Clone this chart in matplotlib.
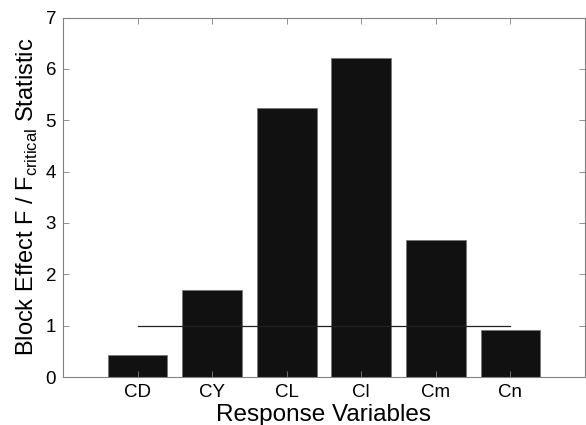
import matplotlib
matplotlib.use("Agg")
import matplotlib.pyplot as plt

# data
variables = ["CD", "CY", "CL", "Cl", "Cm", "Cn"]
ratios = [0.43, 1.70, 5.24, 6.21, 2.66, 0.92]
critical = 1.0

plt.rcParams["font.family"] = ["Liberation Sans", "DejaVu Sans"]
plt.rcParams["mathtext.fontset"] = "custom"
plt.rcParams["mathtext.rm"] = "Liberation Sans"

fig = plt.figure(figsize=(5.86, 4.25), dpi=100)
ax = fig.add_axes([63 / 586, 1 - 377 / 425, 522 / 586, 359.5 / 425])

pos = list(range(1, len(variables) + 1))
ax.bar(pos, ratios, width=0.8, color="#111111", edgecolor="#777777", linewidth=0.6)
ax.plot([pos[0], pos[-1]], [critical, critical], color="#222222", linewidth=0.9)

ax.set_xlim(0, 7)
ax.set_ylim(0, 7)
ax.set_xticks(pos)
ax.set_xticklabels(variables)
ax.set_yticks(range(0, 8))

ax.tick_params(direction="in", length=4, width=0.6, color="#808080",
               labelsize=13.5, top=True, right=True, pad=5)
for s in ax.spines.values():
    s.set_color("#808080")
    s.set_linewidth(0.8)

ax.set_xlabel("Response Variables", fontsize=17.5, labelpad=2)
ax.set_ylabel(r"Block Effect F / F$_{\mathrm{critical}}$ Statistic", fontsize=17, labelpad=4)

fig.savefig("out.png", dpi=100)
